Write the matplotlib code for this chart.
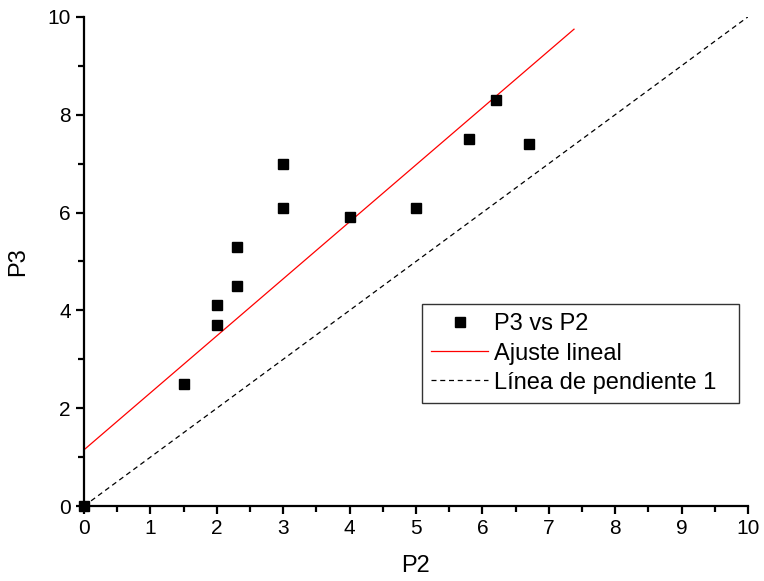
import matplotlib.pyplot as plt
from matplotlib.ticker import MultipleLocator

plt.rcParams['font.family'] = ['Liberation Sans', 'DejaVu Sans']

# data
p2 = [0, 1.5, 2, 2, 2.3, 2.3, 3, 3, 4, 5, 5.8, 6.2, 6.7]
p3 = [0, 2.5, 4.1, 3.7, 5.3, 4.5, 7.0, 6.1, 5.9, 6.1, 7.5, 8.3, 7.4]

fit_x = [0, 7.38]
fit_intercept = 1.15
fit_slope = 1.165
fit_y = [fit_intercept + fit_slope * v for v in fit_x]

ref_x = [0, 10]
ref_y = [0, 10]

fig = plt.figure(figsize=(7.64, 5.81), dpi=100)
ax = fig.add_axes([0.11, 0.129, 0.869, 0.842])

ax.plot(p2, p3, 's', color='black', markersize=7, label='P3 vs P2', clip_on=False, zorder=3)
ax.plot(fit_x, fit_y, '-', color='red', linewidth=0.9, label='Ajuste lineal')
ax.plot(ref_x, ref_y, '--', color='black', linewidth=0.9, dashes=(4, 3), label='Línea de pendiente 1')

ax.set_xlim(0, 10)
ax.set_ylim(0, 10)
ax.spines['top'].set_visible(False)
ax.spines['right'].set_visible(False)
for s in ('left', 'bottom'):
    ax.spines[s].set_linewidth(1.6)

ax.xaxis.set_major_locator(MultipleLocator(1))
ax.xaxis.set_minor_locator(MultipleLocator(0.5))
ax.yaxis.set_major_locator(MultipleLocator(2))
ax.yaxis.set_minor_locator(MultipleLocator(1))
ax.tick_params(which='major', direction='out', length=6, width=1.6, labelsize=15)
ax.tick_params(which='minor', direction='out', length=4, width=1.6)

ax.set_xlabel('P2', fontsize=17, labelpad=12)
ax.set_ylabel('P3', fontsize=17, labelpad=13)

leg = ax.legend(loc='upper left', bbox_to_anchor=(0.509, 0.2065, 0.477, 0.2065),
                mode='expand', borderaxespad=0, fontsize=17, frameon=True, fancybox=False,
                handlelength=2.4, handletextpad=0.25, labelspacing=0.3,
                borderpad=0.4, edgecolor='black')
leg.get_frame().set_linewidth(1.0)

fig.savefig('out.png', dpi=100)
